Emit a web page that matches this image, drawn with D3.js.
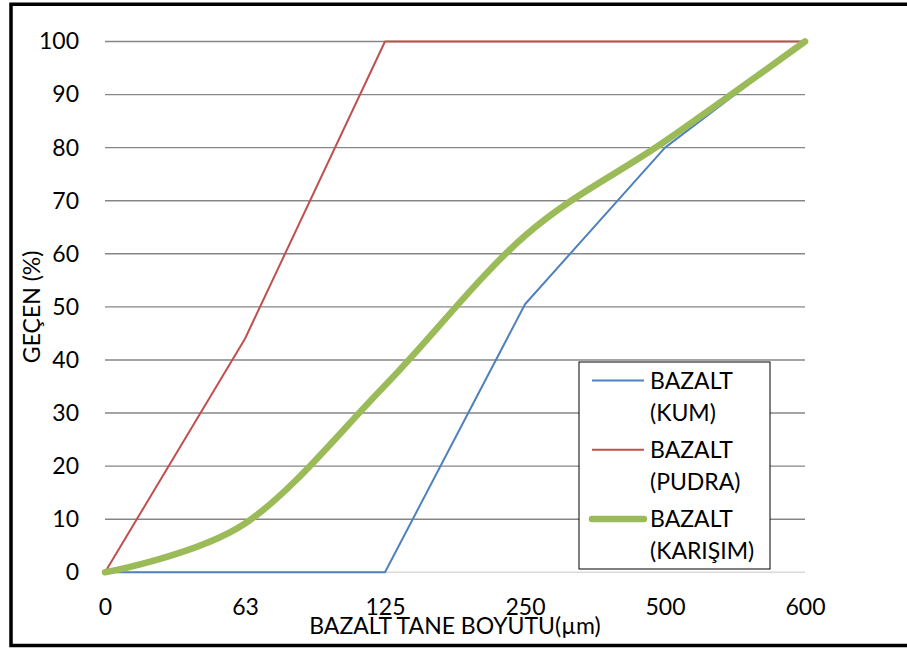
<!DOCTYPE html>
<html>
<head>
<meta charset="utf-8">
<script src="https://cdn.jsdelivr.net/npm/d3@7"></script>
<style>
  html, body { margin: 0; padding: 0; background: #fff; }
  svg { display: block; }
  text { font-family: Lato, "Open Sans", sans-serif; fill: #000; }
</style>
</head>
<body>
<svg id="chart" width="907" height="650"></svg>
<script>
// Sieve sizes (µm), plotted as evenly spaced categories
const sizes = ["0", "63", "125", "250", "500", "600"];
// Passing percentages for each material
const kum     = [0, 0, 0, 50.5, 80, 100];
const pudra   = [0, 44, 100, 100, 100, 100];
const karisim = [0, 9.2, 35.2, 63.4, 81.2, 100];
const yTicks  = [0, 10, 20, 30, 40, 50, 60, 70, 80, 90, 100];

const series = [
  { name: ["BAZALT", "(KUM)"],     values: kum,     color: "#4f81bd", width: 2,   smooth: false },
  { name: ["BAZALT", "(PUDRA)"],   values: pudra,   color: "#c0504d", width: 2,   smooth: false },
  { name: ["BAZALT", "(KARIŞIM)"], values: karisim, color: "#9bbb59", width: 6.5, smooth: true }
];

const svg = d3.select("#chart");
const plot = { left: 105, right: 805, top: 41.5, bottom: 572.3 };

const x = d3.scalePoint().domain(sizes).range([plot.left, plot.right]);
const y = d3.scaleLinear().domain([0, 100]).range([plot.bottom, plot.top]);

// Outer frame
svg.append("path")
  .attr("d", `M 920 4.3 H 11 V 645.5 H 920`)
  .attr("fill", "none").attr("stroke", "#000").attr("stroke-width", 3.5);

// Horizontal gridlines
svg.append("g").selectAll("line")
  .data(yTicks.filter(d => d > 0))
  .join("line")
  .attr("x1", plot.left).attr("x2", plot.right)
  .attr("y1", d => y(d)).attr("y2", d => y(d))
  .attr("stroke", "#868686").attr("stroke-width", 1.4);

// Category axis baseline
svg.append("line")
  .attr("x1", plot.left).attr("x2", plot.right)
  .attr("y1", y(0)).attr("y2", y(0))
  .attr("stroke", "#d9d9d9").attr("stroke-width", 1.4);

// Y axis
const yAxis = svg.append("g")
  .attr("transform", `translate(${plot.left},0)`)
  .call(d3.axisLeft(y).tickValues(yTicks).tickSize(0).tickPadding(26));
yAxis.select(".domain").remove();
yAxis.selectAll("text")
  .style("font-family", "Lato, 'Open Sans', sans-serif")
  .style("font-size", "23px").attr("fill", "#000");

// X axis
const xAxis = svg.append("g")
  .attr("transform", `translate(0,${plot.bottom})`)
  .call(d3.axisBottom(x).tickSize(0).tickPadding(26));
xAxis.select(".domain").remove();
xAxis.selectAll("text")
  .style("font-family", "Lato, 'Open Sans', sans-serif")
  .style("font-size", "23px").attr("fill", "#000");

// Axis titles
svg.append("text")
  .attr("x", (plot.left + plot.right) / 2).attr("y", 634)
  .attr("text-anchor", "middle").style("font-size", "23px")
  .text("BAZALT TANE BOYUTU(µm)");

svg.append("text")
  .attr("transform", `translate(40,${(plot.top + plot.bottom) / 2}) rotate(-90)`)
  .attr("text-anchor", "middle").style("font-size", "23px")
  .text("GEÇEN (%)");

// Series lines
const linePlain = d3.line().x((d, i) => x(sizes[i])).y(d => y(d));
const lineSmooth = d3.line().x((d, i) => x(sizes[i])).y(d => y(d))
  .curve(d3.curveCardinal.tension(0));

svg.append("g").selectAll("path")
  .data(series)
  .join("path")
  .attr("d", s => (s.smooth ? lineSmooth : linePlain)(s.values))
  .attr("fill", "none")
  .attr("stroke", s => s.color)
  .attr("stroke-width", s => s.width)
  .attr("stroke-linejoin", "round")
  .attr("stroke-linecap", s => s.smooth ? "round" : "butt");

// Legend
const lg = svg.append("g").attr("transform", "translate(579,362)");
lg.append("rect")
  .attr("width", 191).attr("height", 207)
  .attr("fill", "#fff").attr("stroke", "#000").attr("stroke-width", 1);

const item = lg.selectAll("g.item")
  .data(series)
  .join("g").attr("class", "item")
  .attr("transform", (d, i) => `translate(0,${18.5 + i * 69.3})`);

item.append("line")
  .attr("x1", 13).attr("x2", 65)
  .attr("stroke", d => d.color)
  .attr("stroke-width", d => d.width)
  .attr("stroke-linecap", d => d.smooth ? "round" : "butt");

item.append("text")
  .attr("x", 71).attr("y", 8)
  .style("font-size", "23px")
  .selectAll("tspan")
  .data(d => d.name)
  .join("tspan")
  .attr("x", 71)
  .attr("dy", (d, i) => i === 0 ? 0 : 32)
  .text(d => d);
</script>
</body>
</html>
